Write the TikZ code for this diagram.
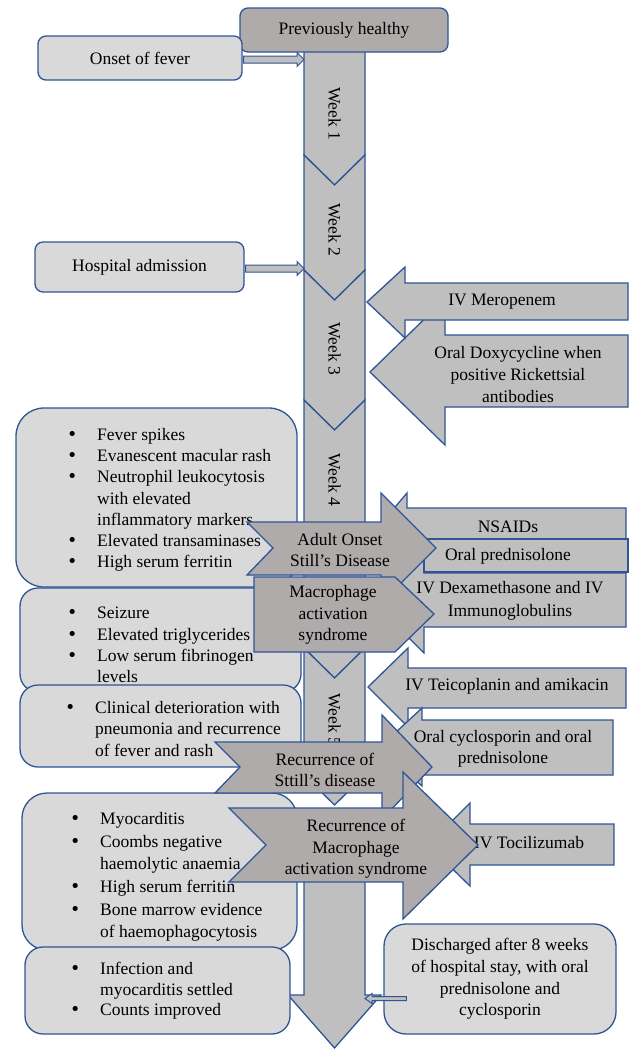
\documentclass[tikz,border=0pt]{standalone}
\usepackage{fontspec}
\setmainfont{Liberation Serif}
\newfontfamily\bulfont{DejaVu Sans}
\usetikzlibrary{calc}
\definecolor{edge}{RGB}{47,85,151}
\definecolor{lgray}{RGB}{217,217,217}
\definecolor{mgray}{RGB}{191,191,191}
\definecolor{dgray}{RGB}{175,171,171}
\newcommand\lbul{\makebox[30pt][l]{\bulfont •}}
\newcommand\lind{\hspace*{30pt}}
\begin{document}
\begin{tikzpicture}[x=1pt,y=-1pt,
  shp/.style={draw=edge, line width=1.3pt, line join=miter},
  col/.style={shp, fill=mgray},
  dis/.style={shp, fill=dgray},
  lbox/.style={shp, fill=lgray},
  txt/.style={font=\fontsize{17.5}{21.5}\selectfont, inner sep=0pt, align=center},
  lst/.style={font=\fontsize{17.5}{21.2}\selectfont, inner sep=0pt, align=left, anchor=west},
  wk/.style={txt, rotate=-90}]
\useasboundingbox (0,0) rectangle (635,1052);
\coordinate (colL) at (304,0);
\coordinate (colR) at (365,0);
% ---- timeline column ----
\draw[col] (304,40) -- (365,40) -- (365,155) -- (334.5,185) -- (304,155) -- cycle;
\draw[col] (304,155) -- (334.5,185) -- (365,155) -- (365,270) -- (334.5,300) -- (304,270) -- cycle;
\draw[col] (304,270) -- (334.5,300) -- (365,270) -- (365,400) -- (334.5,430) -- (304,400) -- cycle;
\draw[col] (304,400) -- (334.5,430) -- (365,400) -- (365,648) -- (334.5,678) -- (304,648) -- cycle;
\draw[col] (304,648) -- (334.5,678) -- (365,648) -- (365,775) -- (334.5,805) -- (304,775) -- cycle;
\draw[col] (304,812) -- (334.5,842) -- (365,812) -- (365,995) -- (381,995) -- (334.5,1048) -- (288,995) -- (304,995) -- cycle;
\node[wk] (w1) at (334.5,114) {Week 1};
\node[wk] (w2) at (334.5,230) {Week 2};
\node[wk] (w3) at (334.5,349) {Week 3};
\node[wk] (w4) at (334.5,480) {Week 4};
\node[wk] (w5) at (334.5,720) {Week 5};
% ---- top ----
\node[dis, rounded corners=8pt, minimum width=208pt, minimum height=44pt, txt] (ph) at (344,30) {Previously healthy};
\node[lbox, rounded corners=8pt, minimum width=204pt, minimum height=44pt, txt] (onset) at (140,58) {Onset of fever};
\node[lbox, rounded corners=8pt, minimum width=209pt, minimum height=50pt, txt] (hosp) at (139.5,267) {Hospital admission};
\coordinate (t1) at ($(onset.east -| colL)+(0,1.5)$);
\draw[col, line width=1pt] ($(onset.east)+(1,-2)$) -- ($(t1)+(-7,-3.5)$) -- ($(t1)+(-7,-7)$) -- (t1) -- ($(t1)+(-7,7)$) -- ($(t1)+(-7,3.5)$) -- ($(onset.east)+(1,5)$) -- cycle;
\coordinate (t2) at ($(hosp.east -| colL)+(0,1.5)$);
\draw[col, line width=1pt] ($(hosp.east)+(1,-2)$) -- ($(t2)+(-7,-3.5)$) -- ($(t2)+(-7,-7)$) -- (t2) -- ($(t2)+(-7,7)$) -- ($(t2)+(-7,3.5)$) -- ($(hosp.east)+(1,5)$) -- cycle;
% ---- week 3 treatments ----
\draw[col] (370,372) -- (445,299) -- (445,335) -- (628,335) -- (628,407) -- (445,407) -- (445,445) -- cycle;
\draw[col] (367,302) -- (405,267) -- (405,283) -- (628,283) -- (628,320) -- (405,320) -- (405,338) -- cycle;
\node[txt] (mero) at (502,302) {IV Meropenem};
\node[txt, font=\fontsize{17.5}{22}\selectfont] (doxy) at (518,375) {Oral Doxycycline when\\positive Rickettsial\\antibodies};
% ---- left boxes ----
\draw[lbox, rounded corners=28pt] (16,408) rectangle (297,587);
\node[lst] (asdl) at (67,500) {\lbul Fever spikes\\\lbul Evanescent macular rash\\\lbul Neutrophil leukocytosis\\\lind with elevated\\\lind inflammatory markers\\\lbul Elevated transaminases\\\lbul High serum ferritin};
\draw[lbox, rounded corners=18pt] (20,588) rectangle (301,692);
\node[lst] (masl) at (67,645) {\lbul Seizure\\\lbul Elevated triglycerides\\\lbul Low serum fibrinogen\\\lind levels};
\draw[lbox, rounded corners=18pt] (20,685) rectangle (301,767);
\node[lst] (clinl) at (65,729) {\lbul Clinical deterioration with\\\lind pneumonia and recurrence\\\lind of fever and rash};
\draw[lbox, rounded corners=25pt] (22,793) rectangle (297,950);
\node[lst, font=\fontsize{17.5}{22.6}\selectfont] (myol) at (70,877) {\lbul Myocarditis\\\lbul Coombs negative\\\lind haemolytic anaemia\\\lbul High serum ferritin\\\lbul Bone marrow evidence\\\lind of haemophagocytosis};
\draw[lbox, rounded corners=18pt] (25,947) rectangle (290,1034);
\node[lst, font=\fontsize{17.5}{20.6}\selectfont] (infl) at (70,991) {\lbul Infection and\\\lind myocarditis settled\\\lbul Counts improved};
% ---- week 4 treatments ----
\draw[col] (368,539) -- (407,493) -- (407,508) -- (626,508) -- (626,570) -- (407,570) -- (407,585) -- cycle;
\node[txt] (nsaid) at (508,527) {NSAIDs};
\draw[col] (371,600) -- (424,547) -- (424,573) -- (626,573) -- (626,627) -- (424,627) -- (424,653) -- cycle;
\node[txt, font=\fontsize{17.5}{23}\selectfont] (dexa) at (510,601) {IV Dexamethasone and IV\\Immunoglobulins};
\draw[col] (424,539) rectangle (628,572);
\node[txt] (pred) at (508,556) {Oral prednisolone};
% ---- disease arrows ----
\draw[dis] (247,522) -- (381,522) -- (381,493) -- (436,548) -- (381,603) -- (381,575) -- (247,575) -- (273,548) -- cycle;
\node[txt] (asd) at (340,550) {Adult Onset\\Still’s Disease};
\draw[dis] (254,577) -- (395,577) -- (434,614) -- (395,652) -- (254,652) -- cycle;
\node[txt] (mas) at (333,615) {Macrophage\\activation\\syndrome};
% ---- week 5 treatments ----
\draw[col] (368,687) -- (408,648) -- (408,668) -- (626,668) -- (626,708) -- (408,708) -- (408,727) -- cycle;
\node[txt] (teic) at (507,686) {IV Teicoplanin and amikacin};
\draw[col] (380,747) -- (422,708) -- (422,720) -- (613,720) -- (613,775) -- (422,775) -- (422,786) -- cycle;
\node[txt] (cyc) at (503,749) {Oral cyclosporin and oral\\prednisolone};
\draw[dis] (215,742) -- (382,742) -- (382,715) -- (432,767) -- (382,819) -- (382,793) -- (215,793) -- (240,767) -- cycle;
\node[txt] (rsd) at (325,770) {Recurrence of\\Sttill’s disease};
\draw[col] (428,845) -- (470,803) -- (470,824) -- (614,824) -- (614,865) -- (470,865) -- (470,886) -- cycle;
\node[txt] (toci) at (529,843) {IV Tocilizumab};
\draw[dis] (229,808) -- (403,808) -- (403,772) -- (478,845) -- (403,919) -- (403,882) -- (229,882) -- (266,845) -- cycle;
\node[txt] (rmas) at (356,849) {Recurrence of\\Macrophage\\activation syndrome};
% ---- discharge ----
\node[lbox, rounded corners=22pt, minimum width=232pt, minimum height=110pt, txt, font=\fontsize{17.5}{21.7}\selectfont] (disch) at (500,979) {Discharged after 8 weeks\\of hospital stay, with oral\\prednisolone and\\cyclosporin};
\coordinate (t3) at ($(disch.west -| colR)+(0,19.5)$);
\draw[col, line width=1pt] ($(disch.west)+(23,17.5)$) -- ($(t3)+(7,-2)$) -- ($(t3)+(7,-5)$) -- (t3) -- ($(t3)+(7,5)$) -- ($(t3)+(7,2)$) -- ($(disch.west)+(23,21.5)$) -- cycle;
\end{tikzpicture}
\end{document}
